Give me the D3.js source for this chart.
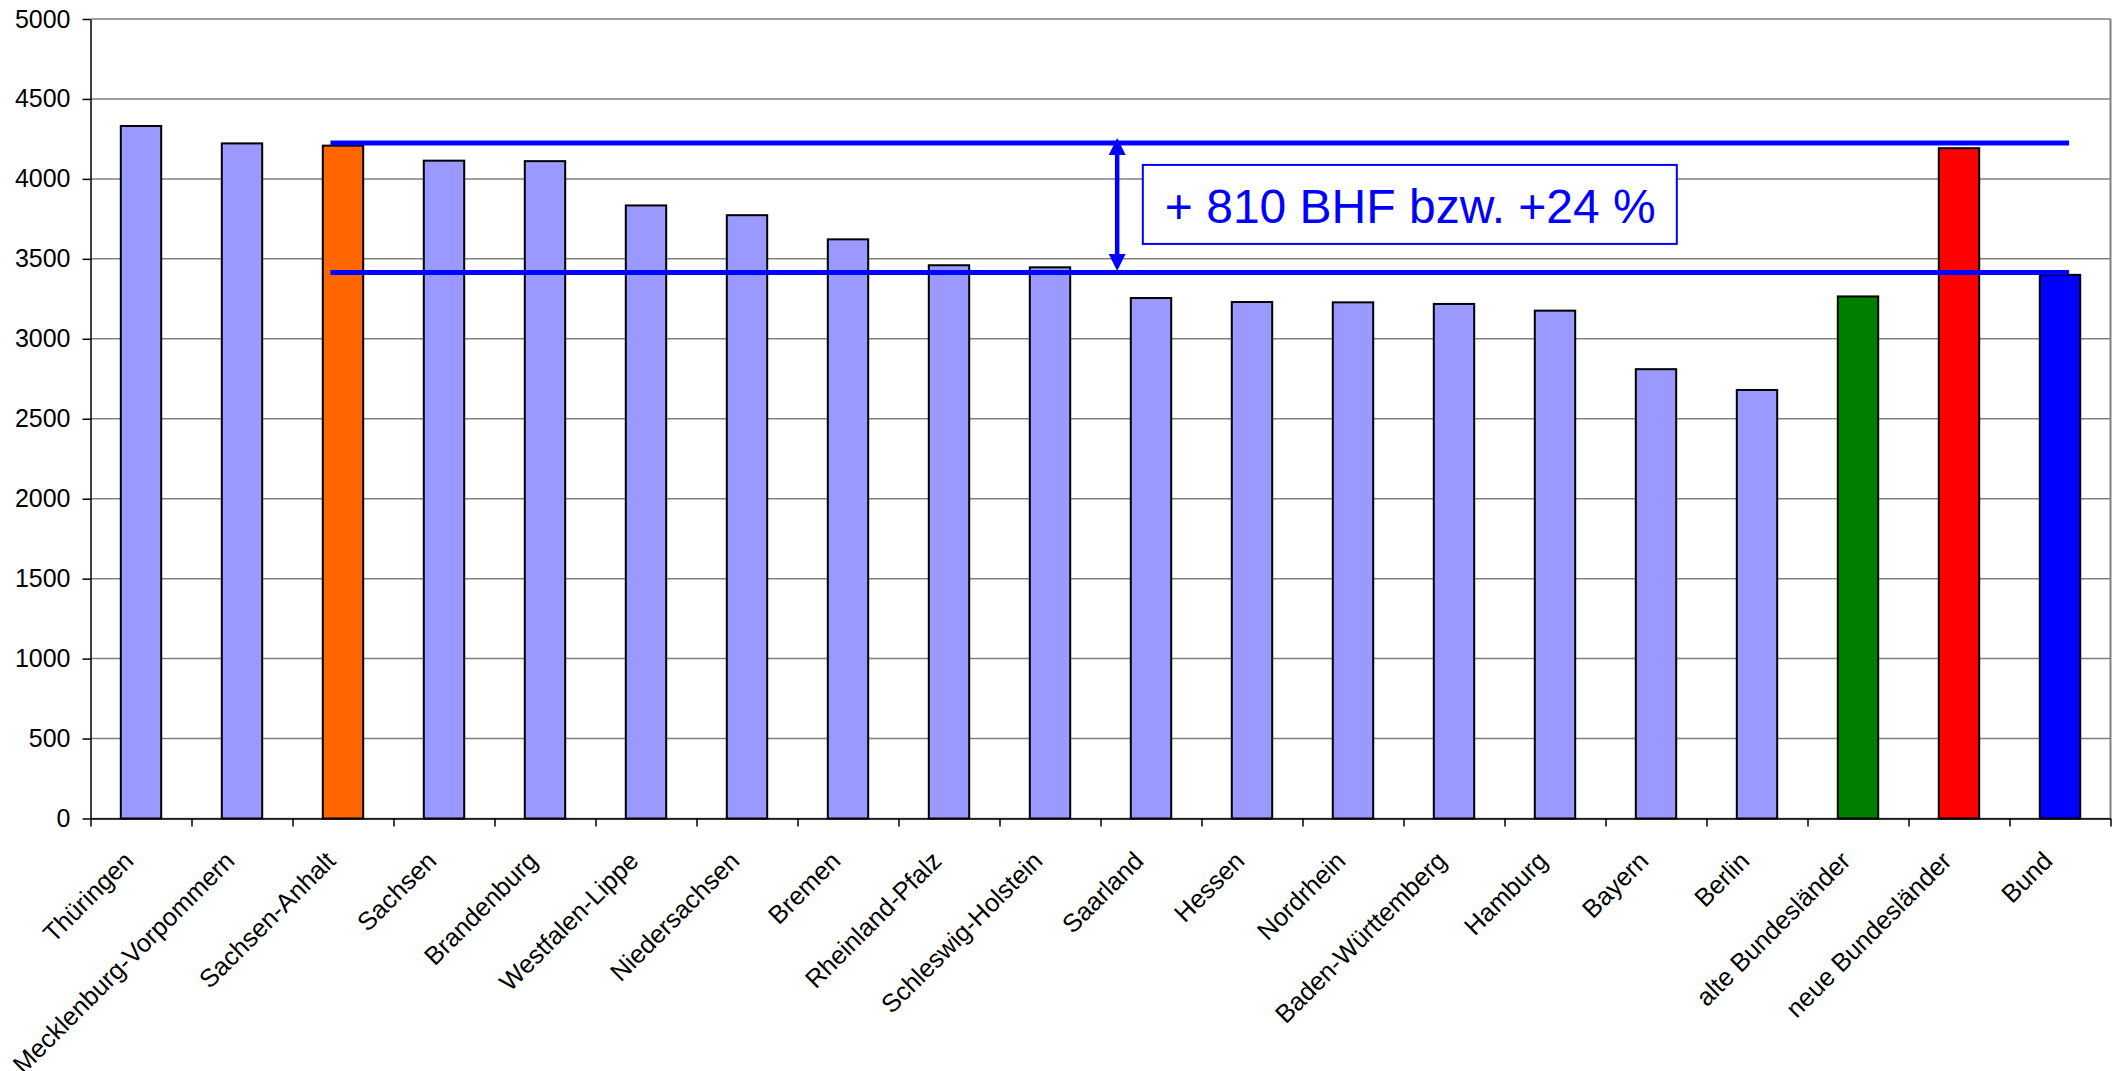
<!DOCTYPE html>
<html>
<head>
<meta charset="utf-8">
<script src="https://cdn.jsdelivr.net/npm/d3@7"></script>
<style>
  body { margin: 0; background: #fff; }
  text { font-family: "Liberation Sans", Arial, sans-serif; }
</style>
</head>
<body>
<div id="chart"></div>
<script>
// data
const categories = ["Thüringen", "Mecklenburg-Vorpommern", "Sachsen-Anhalt", "Sachsen", "Brandenburg",
    "Westfalen-Lippe", "Niedersachsen", "Bremen", "Rheinland-Pfalz", "Schleswig-Holstein", "Saarland",
    "Hessen", "Nordrhein", "Baden-Württemberg", "Hamburg", "Bayern", "Berlin",
    "alte Bundesländer", "neue Bundesländer", "Bund"];
const values = [4331, 4222, 4208, 4114, 4111, 3834, 3773, 3622, 3460, 3447, 3255,
    3230, 3228, 3218, 3176, 2810, 2680, 3265, 4192, 3400];
const barColors = ["#9999ff", "#9999ff", "#ff6600", "#9999ff", "#9999ff", "#9999ff", "#9999ff", "#9999ff",
    "#9999ff", "#9999ff", "#9999ff", "#9999ff", "#9999ff", "#9999ff", "#9999ff", "#9999ff", "#9999ff",
    "#008000", "#ff0000", "#0000ff"];
const yTicks = [0, 500, 1000, 1500, 2000, 2500, 3000, 3500, 4000, 4500, 5000];
// the two reference levels and the note between them
const levelHigh = 4225, levelLow = 3415;
const noteText = "+ 810 BHF bzw. +24 %";

// set the dimensions and margins of the graph
const margin = {top: 19, right: 3.5, bottom: 252.5, left: 90.5},
    width = 2114 - margin.left - margin.right,
    height = 1071 - margin.top - margin.bottom;

const svg = d3.select("#chart")
    .append("svg")
    .attr("width", width + margin.left + margin.right)
    .attr("height", height + margin.top + margin.bottom)
    .append("g")
    .attr("transform", `translate(${margin.left}, ${margin.top})`);

const x = d3.scaleBand()
    .domain(categories)
    .range([0, width])
    .padding(0);
const bw = x.bandwidth();

const y = d3.scaleLinear()
    .domain([0, 5000])
    .range([height, 0]);

// gridlines
svg.append("g")
    .selectAll("line")
    .data(yTicks)
    .join("line")
    .attr("x1", 0)
    .attr("x2", width)
    .attr("y1", d => y(d))
    .attr("y2", d => y(d))
    .attr("stroke", "#808080")
    .attr("stroke-width", 1.5);

// right border of the plot area
svg.append("line")
    .attr("x1", width).attr("x2", width)
    .attr("y1", y(5000)).attr("y2", y(0))
    .attr("stroke", "#808080")
    .attr("stroke-width", 2);

// bars
svg.append("g")
    .selectAll("rect")
    .data(categories)
    .join("rect")
    .attr("x", d => x(d) + bw * 0.3)
    .attr("width", bw * 0.4)
    .attr("y", (d, i) => y(values[i]))
    .attr("height", (d, i) => y(0) - y(values[i]))
    .attr("fill", (d, i) => barColors[i])
    .attr("stroke", "#000")
    .attr("stroke-width", 2);

// Y axis
const yAxis = svg.append("g")
    .call(d3.axisLeft(y).tickValues(yTicks).tickFormat(d3.format("d"))
        .tickSize(8).tickSizeOuter(0).tickPadding(12));
yAxis.select(".domain").attr("stroke", "#000").attr("stroke-width", 1.5);
yAxis.selectAll(".tick line").attr("stroke", "#000").attr("stroke-width", 1.5);
yAxis.selectAll(".tick text")
    .attr("font-size", 25)
    .attr("font-family", "Liberation Sans, Arial, sans-serif")
    .attr("fill", "#000");

// X axis: ticks sit between the categories
const xEdge = d3.scaleLinear().domain([0, categories.length]).range([0, width]);
const xAxis = svg.append("g")
    .attr("transform", `translate(0, ${height})`)
    .call(d3.axisBottom(xEdge).ticks(categories.length).tickFormat("").tickSize(8).tickSizeOuter(0));
xAxis.select(".domain").attr("stroke", "#000").attr("stroke-width", 1.5);
xAxis.selectAll(".tick line").attr("stroke", "#000").attr("stroke-width", 1.5);

// rotated category labels
svg.append("g")
    .selectAll("text")
    .data(categories)
    .join("text")
    .attr("transform", d => `translate(${x(d) + bw / 2 - 6}, ${height + 44}) rotate(-45)`)
    .attr("text-anchor", "end")
    .attr("font-size", 25.5)
    .attr("fill", "#000")
    .text(d => d);

// reference lines
const lineStart = x("Sachsen-Anhalt") + bw * 0.376,
    lineEnd = x("Bund") + bw * 0.59;
svg.append("g")
    .selectAll("line")
    .data([levelHigh, levelLow])
    .join("line")
    .attr("x1", lineStart)
    .attr("x2", lineEnd)
    .attr("y1", d => y(d))
    .attr("y2", d => y(d))
    .attr("stroke", "#0000ff")
    .attr("stroke-width", 5);

// double arrow between the lines
const ax = x("Saarland") + bw * 0.165;
const arrowTop = y(levelHigh) - 5, arrowBot = y(levelLow) - 1.5, head = 17, half = 8.5;
svg.append("line")
    .attr("x1", ax).attr("x2", ax)
    .attr("y1", arrowTop + head - 2).attr("y2", arrowBot - head + 2)
    .attr("stroke", "#0000ff")
    .attr("stroke-width", 4.5);
svg.append("path")
    .attr("d", `M${ax},${arrowTop} L${ax - half},${arrowTop + head} L${ax + half},${arrowTop + head} Z`)
    .attr("fill", "#0000ff");
svg.append("path")
    .attr("d", `M${ax},${arrowBot} L${ax - half},${arrowBot - head} L${ax + half},${arrowBot - head} Z`)
    .attr("fill", "#0000ff");

// note box
const boxX = x("Saarland") + bw * 0.419, boxY = y(levelHigh) + 22;
svg.append("rect")
    .attr("x", boxX)
    .attr("y", boxY)
    .attr("width", 534)
    .attr("height", 79)
    .attr("fill", "#fff")
    .attr("stroke", "#0000ff")
    .attr("stroke-width", 2);
svg.append("text")
    .attr("x", boxX + 22)
    .attr("y", boxY + 58)
    .attr("font-size", 48)
    .attr("fill", "#0000ff")
    .text(noteText);
</script>
</body>
</html>
